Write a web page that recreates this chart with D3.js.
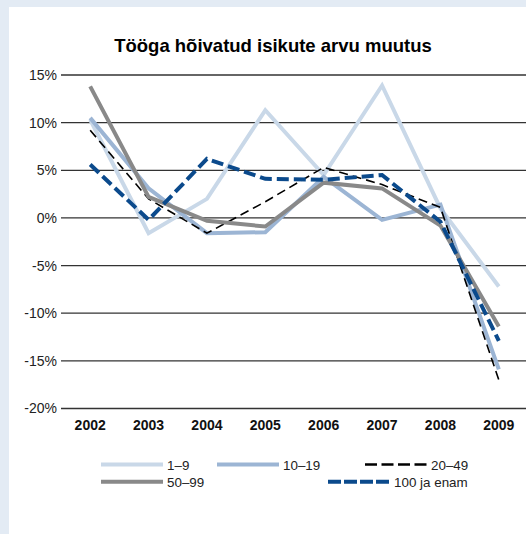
<!DOCTYPE html>
<html><head><meta charset="utf-8">
<script src="https://cdn.jsdelivr.net/npm/d3@7"></script>
<style>
html,body{margin:0;padding:0;background:#e3ebf4;}
svg{display:block;font-family:"Liberation Sans",Arial,Helvetica,sans-serif;}
</style></head>
<body>
<svg id="chart" width="526" height="534"></svg>
<script>
const years = ["2002","2003","2004","2005","2006","2007","2008","2009"];
const yTicks = [15,10,5,0,-5,-10,-15,-20];
const s1_9    = [10.3, -1.6,  2.0, 11.3,  4.5, 13.9,  1.0,  -7.2];
const s10_19  = [10.5,  3.1, -1.6, -1.5,  4.3, -0.2,  1.4, -15.9];
const s20_49  = [ 9.2,  2.0, -1.6,  1.7,  5.3,  3.5,  1.1, -17.0];
const s50_99  = [13.8,  2.2, -0.3, -0.9,  3.7,  3.1, -0.8, -11.4];
const s100    = [ 5.6, -0.2,  6.2,  4.1,  4.0,  4.5, -0.4, -12.9];
const seriesNames = ["1–9","10–19","20–49","50–99","100 ja enam"];

const series = [
  {name: seriesNames[0], values: s1_9,   color: "#c9d8e8", width: 4,   dash: null},
  {name: seriesNames[1], values: s10_19, color: "#9cb5d4", width: 4,   dash: null},
  {name: seriesNames[2], values: s20_49, color: "#000000", width: 1.6, dash: "9,5"},
  {name: seriesNames[3], values: s50_99, color: "#898989", width: 4,   dash: null},
  {name: seriesNames[4], values: s100,   color: "#0b4a8c", width: 4,   dash: "12,5"}
];

const svg = d3.select("#chart");
svg.append("rect").attr("x", 9).attr("y", 7).attr("width", 526 - 9).attr("height", 534 - 7).attr("fill", "#ffffff");

svg.append("text").attr("x", 273).attr("y", 52).attr("text-anchor", "middle")
  .attr("font-size", 18.5).attr("font-weight", "bold").attr("fill", "#000").text("Tööga hõivatud isikute arvu muutus");

const x = d3.scaleBand().domain(years).range([61, 528]).padding(0);
const y = d3.scaleLinear().domain([-20, 15]).range([408.5, 75]);

// gridlines + y labels
const yAxis = d3.axisLeft(y).tickValues(yTicks).tickSize(0).tickPadding(4).tickFormat(d => d + "%");
const gy = svg.append("g").attr("transform", "translate(61,0)").call(yAxis);
gy.select(".domain").remove();
gy.selectAll("text").attr("font-size", 14).attr("fill", "#222").attr("font-family", "Liberation Sans, Arial, sans-serif");
svg.append("g").selectAll("line").data(yTicks).join("line")
  .attr("x1", 61).attr("x2", 526).attr("y1", d => y(d)).attr("y2", d => y(d))
  .attr("stroke", "#333").attr("stroke-width", 1.3);

// x labels
const xAxis = d3.axisBottom(x).tickSize(0).tickPadding(0);
const gx = svg.append("g").attr("transform", "translate(0,420)").call(xAxis);
gx.select(".domain").remove();
gx.selectAll("text").attr("font-size", 14).attr("font-weight", "bold").attr("fill", "#111")
  .attr("font-family", "Liberation Sans, Arial, sans-serif");

// lines
const line = d3.line().x((d, i) => x(years[i]) + x.bandwidth() / 2).y(d => y(d));
svg.append("g").selectAll("path").data(series).join("path")
  .attr("d", d => line(d.values)).attr("fill", "none")
  .attr("stroke", d => d.color).attr("stroke-width", d => d.width)
  .attr("stroke-dasharray", d => d.dash).attr("stroke-linejoin", "miter");

// legend
const legendPos = [
  {sx: 101, row: 0},
  {sx: 217, row: 0},
  {sx: 365, row: 0},
  {sx: 101, row: 1},
  {sx: 328, row: 1}
];
const lg = svg.append("g");
series.forEach((s, i) => {
  const p = legendPos[i];
  const yy = 464.5 + p.row * 17.3;
  lg.append("line").attr("x1", p.sx).attr("x2", p.sx + 62).attr("y1", yy).attr("y2", yy)
    .attr("stroke", s.color).attr("stroke-width", s.width === 4 ? 4 : 2.5)
    .attr("stroke-dasharray", s.dash ? (s.width === 4 ? "13,3" : "12,4.5") : null);
  lg.append("text").attr("x", p.sx + 66).attr("y", yy + 5).attr("font-size", 13.4).attr("fill", "#222").text(s.name);
});
</script>
</body></html>
